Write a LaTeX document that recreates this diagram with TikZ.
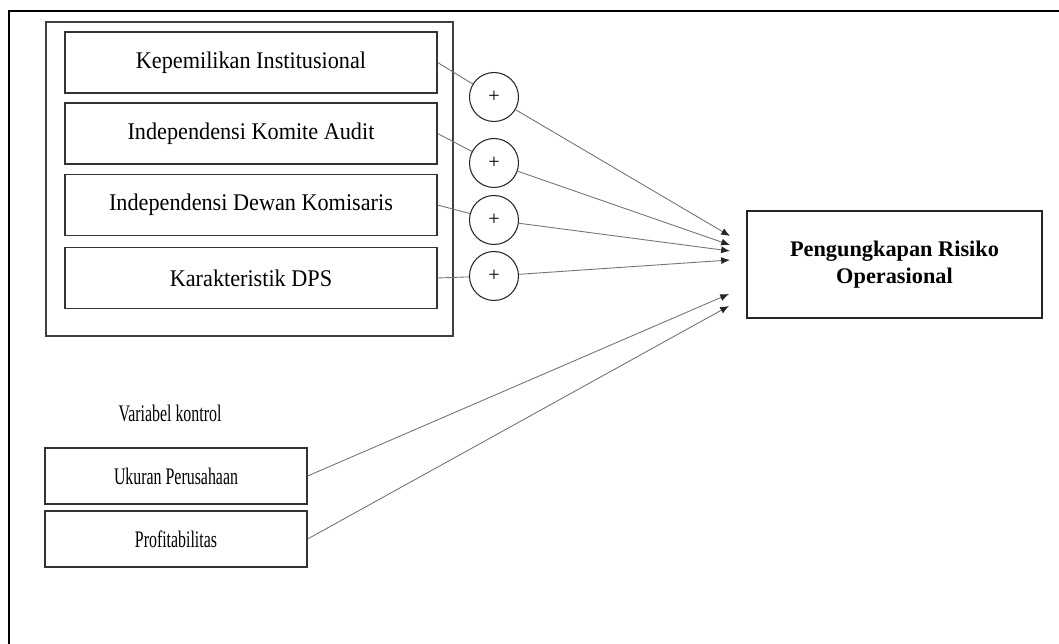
\documentclass[tikz,border=0pt]{standalone}
\usepackage{fontspec}
\setmainfont{Liberation Serif}
\newfontfamily\narrowfont[FakeStretch=0.67]{Liberation Serif}
\newfontfamily\boxfont[FakeStretch=0.93]{Liberation Serif}
\usetikzlibrary{arrows.meta}

\begin{document}
\begin{tikzpicture}[x=0.02cm, y=-0.02cm,
        varbox/.style={draw=black!80, line width=0.7pt, minimum width=7.44cm, minimum height=1.22cm, inner sep=0pt, font=\boxfont\fontsize{13.6}{16}\selectfont},
        ctrlbox/.style={draw=black!80, line width=0.7pt, minimum width=5.24cm, minimum height=1.12cm, inner sep=0pt, font=\narrowfont\fontsize{13.5}{16}\selectfont},
        sign/.style={draw=black!85, line width=0.6pt, circle, minimum size=0.98cm, inner sep=0pt, font=\fontsize{11.5}{13}\selectfont},
        link/.style={draw=black!55, line width=0.5pt},
        arr/.style={link, -{Latex[length=5pt, width=4pt, color=black!85]}}]
        \useasboundingbox (0, 0) rectangle (1059, 644);

        % outer frame and group box
        \draw [line width=1.1pt] (9, 644) -- (9, 11) -- (1059, 11);
        \draw [draw=black!75, line width=0.7pt] (46, 22) rectangle (453, 336);

        \node [varbox] (inst) at (251, 62.5) {Kepemilikan Institusional};
        \node [varbox] (audit) at (251, 133.5) {Independensi Komite Audit};
        \node [varbox] (dewan) at (251, 205) {Independensi Dewan Komisaris};
        \node [varbox] (dps) at (251, 278) {Karakteristik DPS};

        \node [sign] (plusa) at (494, 97) {+};
        \node [sign] (plusb) at (494, 163) {+};
        \node [sign] (plusc) at (494, 220) {+};
        \node [sign] (plusd) at (494, 276) {+};

        \node [draw=black!85, line width=0.7pt, minimum width=5.9cm, minimum height=2.14cm, align=center, font=\bfseries\fontsize{12.7}{15.5}\selectfont] (risiko) at (894.5, 264.5) {Pengungkapan Risiko\\Operasional};

        \node [font=\narrowfont\fontsize{13.5}{16}\selectfont] (kontrol) at (170, 413) {Variabel kontrol};
        \node [ctrlbox] (ukuran) at (176, 476) {Ukuran Perusahaan};
        \node [ctrlbox] (profit) at (176, 539) {Profitabilitas};

        % arrow tips stop short of the box
        \coordinate (ta) at (730, 236);
        \coordinate (tb) at (730, 245);
        \coordinate (tc) at (730, 251);
        \coordinate (td) at (730, 260);
        \coordinate (te) at (729, 294);
        \coordinate (tf) at (729, 306);

        \draw [link] (inst.east) -- (plusa);
        \draw [link] (audit.east) -- (plusb);
        \draw [link] (dewan.east) -- (plusc);
        \draw [link] (dps.east) -- (plusd);

        \draw [arr] (plusa) -- (ta);
        \draw [arr] (plusb) -- (tb);
        \draw [arr] (plusc) -- (tc);
        \draw [arr] (plusd) -- (td);
        \draw [arr] (ukuran.east) -- (te);
        \draw [arr] (profit.east) -- (tf);
    \end{tikzpicture}
\end{document}
